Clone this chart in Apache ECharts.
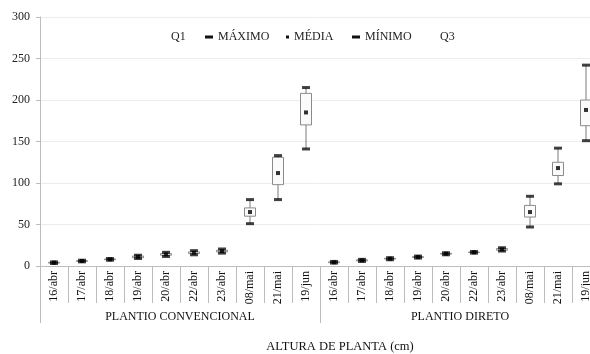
<!DOCTYPE html>
<html>
<head>
<meta charset="utf-8">
<script src="https://cdn.jsdelivr.net/npm/echarts@6/dist/echarts.min.js"></script>
<style>
  html, body { margin: 0; padding: 0; background: #fff; }
  #chart { width: 590px; height: 354px; }
</style>
</head>
<body>
<div id="chart"></div>
<script>
// Sampling dates, repeated for each tillage system
const categories = [
  '16/abr', '17/abr', '18/abr', '19/abr', '20/abr', '22/abr', '23/abr', '08/mai', '21/mai', '19/jun',
  '16/abr', '17/abr', '18/abr', '19/abr', '20/abr', '22/abr', '23/abr', '08/mai', '21/mai', '19/jun'
];
const groups = ['PLANTIO CONVENCIONAL', 'PLANTIO DIRETO'];

// Plant height statistics (cm)
const minimo = [3, 5, 7, 9, 11.5, 13.5, 15.5, 51, 80, 141,
                3.5, 5.5, 7.5, 9.5, 13.5, 15.5, 18, 47, 99, 151];
const q1     = [3.5, 5.5, 7.5, 10, 13, 15, 17, 60, 98, 170,
                4, 6.2, 8.3, 10.3, 14.3, 16.2, 19, 59, 109, 169];
const media  = [4, 6, 8, 11, 14, 16, 18, 65, 112, 185,
                4.5, 6.8, 8.8, 10.8, 14.8, 16.5, 20, 65, 118, 188];
const q3     = [4.5, 6.5, 8.5, 12, 15, 17, 19, 70, 131, 208,
                5, 7.4, 9.3, 11.3, 15.3, 16.8, 21, 73, 125, 200];
const maximo = [5, 7, 9, 13, 16.5, 18.5, 20.5, 80, 133, 215,
                5.5, 8, 10, 12, 16, 17.5, 22, 84, 142, 242];

const yTicks = { min: 0, max: 300, interval: 50 };

const FONT = '"Liberation Serif", "Times New Roman", serif';

const whiskerData = categories.map((c, i) => [i, minimo[i], maximo[i]]);
const boxData = categories.map((c, i) => [i, q1[i], q3[i]]);

function renderWhisker(params, api) {
  const x = api.value(0);
  const lo = api.coord([x, api.value(1)]);
  const hi = api.coord([x, api.value(2)]);
  return {
    type: 'line',
    shape: { x1: lo[0], y1: lo[1], x2: hi[0], y2: hi[1] },
    style: { stroke: '#7a7a7a', lineWidth: 1 }
  };
}

function renderBox(params, api) {
  const x = api.value(0);
  const lo = api.coord([x, api.value(1)]);
  const hi = api.coord([x, api.value(2)]);
  const w = 11;
  return {
    type: 'rect',
    shape: { x: lo[0] - w / 2, y: hi[1], width: w, height: lo[1] - hi[1] },
    style: { fill: '#fbfbfb', stroke: '#8a8a8a', lineWidth: 1 }
  };
}

const legendText = { fontFamily: FONT, fontSize: 12, color: '#222' };
function legendAt(name, left, w, h, icon, color) {
  return {
    data: [{ name: name, icon: icon, itemStyle: { color: color, opacity: color ? 1 : 0 } }],
    left: left, top: 31, padding: 0,
    itemWidth: w, itemHeight: h, itemGap: 0,
    textStyle: legendText,
    selectedMode: false
  };
}

const chart = echarts.init(document.getElementById('chart'));
chart.setOption({
  animation: false,
  backgroundColor: '#fff',
  grid: { left: 40, right: -10, top: 17, bottom: 88, containLabel: false, outerBoundsMode: 'none' },
  legend: [
    legendAt('Q1', 165, 1, 1, 'rect', null),
    legendAt('MÁXIMO', 205, 8, 3, 'rect', '#111'),
    legendAt('MÉDIA', 286, 3, 3, 'rect', '#111'),
    legendAt('MÍNIMO', 352, 8, 3, 'rect', '#111'),
    legendAt('Q3', 434, 1, 1, 'rect', null)
  ],
  xAxis: [
    {
      type: 'category',
      data: categories,
      position: 'bottom',
      boundaryGap: true,
      axisLine: { show: true, lineStyle: { color: '#bdbdbd', width: 1 } },
      axisTick: { show: true, interval: 0, alignWithLabel: false, length: 37, lineStyle: { color: '#bcbcbc', width: 1 } },
      axisLabel: {
        interval: 0, rotate: 90, margin: 5,
        fontFamily: FONT, fontSize: 12, color: '#111'
      },
      splitLine: { show: false }
    },
    {
      type: 'category',
      data: groups,
      position: 'bottom',
      boundaryGap: true,
      axisLine: { show: false },
      axisTick: { show: true, interval: 0, alignWithLabel: false, length: 57, lineStyle: { color: '#bcbcbc', width: 1 } },
      axisLabel: {
        interval: 0, margin: 45,
        fontFamily: FONT, fontSize: 12, color: '#111'
      },
      splitLine: { show: false }
    }
  ],
  yAxis: {
    type: 'value',
    min: yTicks.min, max: yTicks.max, interval: yTicks.interval,
    axisLine: { show: true, lineStyle: { color: '#bdbdbd' } },
    axisTick: { show: true, length: 4, lineStyle: { color: '#bdbdbd' } },
    axisLabel: { margin: 10, fontFamily: FONT, fontSize: 12, color: '#222' },
    splitLine: { lineStyle: { color: '#ececec', width: 1 } }
  },
  graphic: [{
    type: 'text',
    x: 340, y: 347,
    style: {
      text: 'ALTURA DE PLANTA (cm)',
      font: '12.5px ' + FONT,
      fill: '#111',
      align: 'center',
      verticalAlign: 'middle'
    }
  }],
  series: [
    {
      name: 'Q1', type: 'custom', xAxisIndex: 0,
      renderItem: renderWhisker, data: whiskerData, z: 2,
      itemStyle: { color: 'rgba(0,0,0,0)' }
    },
    {
      name: 'Q3', type: 'custom', xAxisIndex: 0,
      renderItem: renderBox, data: boxData, z: 3,
      itemStyle: { color: 'rgba(0,0,0,0)' }
    },
    {
      name: 'MÁXIMO', type: 'scatter', xAxisIndex: 0,
      data: maximo, symbol: 'rect', symbolSize: [8, 3],
      itemStyle: { color: '#111' }, z: 4
    },
    {
      name: 'MÍNIMO', type: 'scatter', xAxisIndex: 0,
      data: minimo, symbol: 'rect', symbolSize: [8, 3],
      itemStyle: { color: '#111' }, z: 4
    },
    {
      name: 'MÉDIA', type: 'scatter', xAxisIndex: 0,
      data: media, symbol: 'rect', symbolSize: 4,
      itemStyle: { color: '#000' }, z: 5
    }
  ]
});
</script>
</body>
</html>
